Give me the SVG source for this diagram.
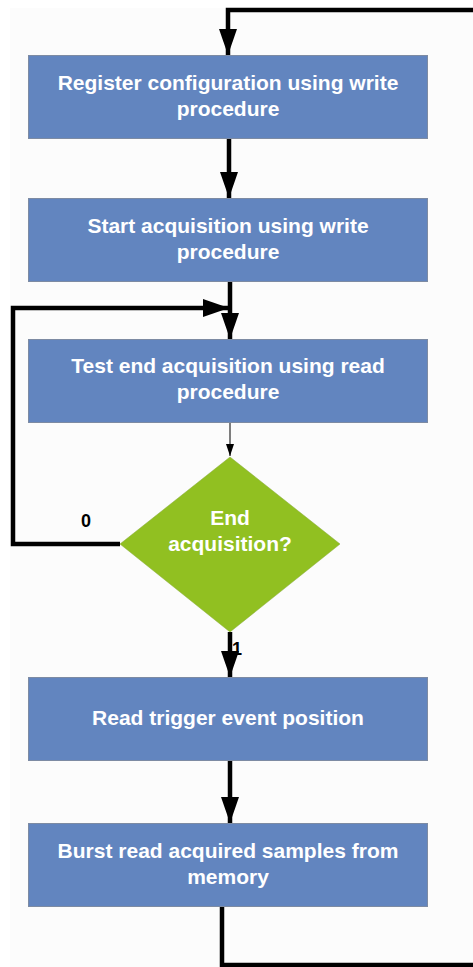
<svg xmlns="http://www.w3.org/2000/svg" width="473" height="967" viewBox="0 0 473 967">
  <style>
    .box { fill: #6285bf; stroke: #7d8ba3; stroke-width: 1; }
    .dec { fill: #91c021; stroke: #86a83a; stroke-width: 0.5; }
    .lbl { font-family: "Liberation Sans", Arial, sans-serif; font-weight: bold; font-size: 21px; fill: #ffffff; text-anchor: middle; }
    .edge { font-family: "Liberation Sans", Arial, sans-serif; font-weight: bold; font-size: 18px; fill: #000000; text-anchor: middle; }
    .wire { fill: none; stroke: #000000; stroke-width: 4.5; }
    .thin { fill: none; stroke: #000000; stroke-width: 1; }
  </style>
  <defs>
    <marker id="big" viewBox="0 0 26 18" refX="26" refY="9" markerWidth="26" markerHeight="18" markerUnits="userSpaceOnUse" orient="auto">
      <path d="M0,0 L26,9 L0,18 Z" fill="#000"/>
    </marker>
    <marker id="small" viewBox="0 0 12 8" refX="12" refY="4" markerWidth="12" markerHeight="8" markerUnits="userSpaceOnUse" orient="auto">
      <path d="M0,0 L12,4 L0,8 Z" fill="#000"/>
    </marker>
  </defs>

  <rect x="0" y="0" width="473" height="967" fill="#ffffff"/>
  <rect x="10" y="8" width="463" height="959" fill="#fcfcfc"/>

  <g id="connectors">
    <polyline class="wire" points="473,10 228,10 228,55" marker-end="url(#big)"/>
    <polyline class="wire" points="229,138 229,198" marker-end="url(#big)"/>
    <polyline class="wire" points="230,281 230,339" marker-end="url(#big)"/>
    <polyline class="wire" points="120,544 13,544 13,308 229,308" marker-end="url(#big)"/>
    <polyline class="thin" points="230,422 230,456" marker-end="url(#small)"/>
    <polyline class="wire" points="230,632 230,677" marker-end="url(#big)"/>
    <polyline class="wire" points="222,906 222,965 473,965"/>
    <polyline class="wire" points="230,760 230,823" marker-end="url(#big)"/>
    <text class="edge" x="86" y="527">0</text>
    <text class="edge" x="237" y="655">1</text>
  </g>

  <g id="register-config">
    <rect class="box" x="28.5" y="55.5" width="399" height="83"/>
    <text class="lbl" x="228" y="90">Register configuration using write</text>
    <text class="lbl" x="228" y="116">procedure</text>
  </g>

  <g id="start-acq">
    <rect class="box" x="28.5" y="198.5" width="399" height="83"/>
    <text class="lbl" x="228" y="233">Start acquisition using write</text>
    <text class="lbl" x="228" y="259">procedure</text>
  </g>

  <g id="test-end">
    <rect class="box" x="28.5" y="339.5" width="399" height="83"/>
    <text class="lbl" x="228" y="373">Test end acquisition using read</text>
    <text class="lbl" x="228" y="399">procedure</text>
  </g>

  <g id="end-decision">
    <polygon class="dec" points="230,457 340,544 230,632 120,544"/>
    <text class="lbl" x="230" y="525">End</text>
    <text class="lbl" x="230" y="551">acquisition?</text>
  </g>

  <g id="read-trigger">
    <rect class="box" x="28.5" y="677.5" width="399" height="83"/>
    <text class="lbl" x="228" y="725">Read trigger event position</text>
  </g>

  <g id="burst-read">
    <rect class="box" x="28.5" y="823.5" width="399" height="83"/>
    <text class="lbl" x="228" y="858">Burst read acquired samples from</text>
    <text class="lbl" x="228" y="884">memory</text>
  </g>
</svg>
